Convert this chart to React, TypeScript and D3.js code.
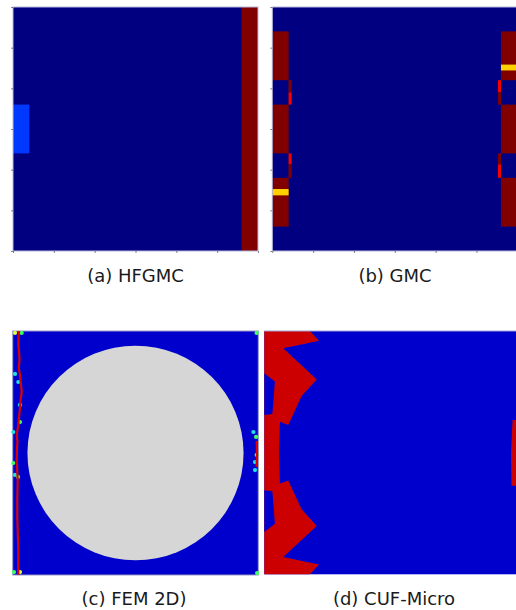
import React, { useEffect, useRef } from "react";
import * as d3 from "d3";

// Jet colour map used by the GMC / HFGMC damage fields (0 = intact, 1 = failed)
function jet(v: number): string {
  const c = (t: number) => Math.round(255 * Math.max(0, Math.min(1, t)));
  return `rgb(${c(1.5 - Math.abs(4 * v - 3))},${c(1.5 - Math.abs(4 * v - 2))},${c(1.5 - Math.abs(4 * v - 1))})`;
}

// Panel titles
const panelTitles = ["(a) HFGMC", "(b) GMC", "(c) FEM 2D)", "(d) CUF-Micro"];

// Axis tick positions on the unit cell (normalised)
const cellTicks = [0, 1 / 6, 2 / 6, 3 / 6, 4 / 6, 5 / 6, 1];

// HFGMC subcell damage: [x0, x1, y0, y1, value]
const hfgmcCells: [number, number, number, number, number][] = [
  [0, 1, 0, 1, 0],
  [14 / 15, 1, 0, 1, 1],
  [0, 1 / 15, 0.4, 0.6, 0.18],
];

// GMC subcell damage: [x0, x1, y0, y1, value]
const gmcCells: [number, number, number, number, number][] = [
  [0, 1, 0, 1, 0],
  [0, 1 / 15, 0.1, 0.9, 1],
  [0, 1 / 15, 0.3, 0.4, 0],
  [0, 1 / 15, 0.6, 0.7, 0],
  [0, 1 / 15, 0.746, 0.772, 0.67],
  [1 / 15, 1 / 15 + 0.012, 0.3, 0.35, 1],
  [1 / 15, 1 / 15 + 0.012, 0.35, 0.4, 0.88],
  [1 / 15, 1 / 15 + 0.012, 0.6, 0.645, 0.88],
  [1 / 15, 1 / 15 + 0.012, 0.645, 0.7, 1],
  [14 / 15, 1, 0.1, 0.9, 1],
  [14 / 15, 1, 0.3, 0.4, 0],
  [14 / 15, 1, 0.6, 0.7, 0],
  [14 / 15, 1, 0.236, 0.26, 0.67],
  [14 / 15 - 0.012, 14 / 15, 0.3, 0.35, 0.88],
  [14 / 15 - 0.012, 14 / 15, 0.35, 0.4, 1],
  [14 / 15 - 0.012, 14 / 15, 0.6, 0.645, 1],
  [14 / 15 - 0.012, 14 / 15, 0.645, 0.7, 0.88],
];

// FEM 2D: fibre and matrix crack paths (normalised cell coordinates)
const fibreCentre: [number, number] = [0.5, 0.5];
const fibreRadius = 0.44;
const leftCrack: [number, number][] = [
  [0.0257, 0], [0.0235, 0.03], [0.0228, 0.057], [0.026, 0.085], [0.0277, 0.119],
  [0.0245, 0.15], [0.0297, 0.18], [0.033, 0.215], [0.0366, 0.25], [0.0318, 0.283],
  [0.0297, 0.316], [0.0257, 0.352], [0.0228, 0.385], [0.0163, 0.426], [0.0195, 0.455],
  [0.0175, 0.48], [0.0163, 0.529], [0.0204, 0.611], [0.0187, 0.693], [0.0187, 0.762],
  [0.0208, 0.836], [0.0228, 0.898], [0.0224, 0.947], [0.0228, 1],
];
const rightCrack: [number, number][] = [
  [0.9935, 0.451], [0.995, 0.508], [0.993, 0.557],
];
// Partially damaged integration points: [x, y, colour]
const damageSpecks: [number, number, string][] = [
  [0.0366, 0.008, "#40ff60"], [0.0094, 0.008, "#e0ff40"], [0.0094, 0.176, "#20e0e0"],
  [0.0228, 0.209, "#20e0e0"], [0.0297, 0.303, "#20e0e0"], [0.0297, 0.373, "#40ff60"],
  [0.0024, 0.414, "#20e0e0"], [0.0024, 0.541, "#40ff60"], [0.0094, 0.59, "#20e0e0"],
  [0.0216, 0.598, "#40ff60"], [0.0053, 0.988, "#40ff60"], [0.0297, 0.988, "#e0ff40"],
  [0.98, 0.414, "#20e0e0"], [0.991, 0.434, "#40ff60"], [0.9935, 0.508, "#40ff60"],
  [0.9866, 0.537, "#20e0e0"], [0.9866, 0.57, "#20e0e0"], [0.993, 0.008, "#40ff60"],
  [0.995, 0.992, "#40ff60"],
];

// CUF-Micro failed elements (normalised cell coordinates)
const cufLeftFailed: [number, number][] = [
  [0, 0], [0.181, 0], [0.217, 0.04], [0.075, 0.071], [0.208, 0.199], [0.148, 0.267],
  [0.095, 0.386], [0.062, 0.373], [0.058, 0.5], [0.062, 0.627], [0.095, 0.614],
  [0.148, 0.733], [0.208, 0.801], [0.075, 0.929], [0.217, 0.96], [0.181, 1], [0, 1],
];
const cufIntactNotches: [number, number][][] = [
  [[0, 0.174], [0.042, 0.208], [0.032, 0.341], [0, 0.345]],
  [[0, 0.826], [0.042, 0.792], [0.032, 0.659], [0, 0.655]],
];
const cufRightFailed: [number, number][] = [
  [0.985, 0.366], [1.01, 0.366], [1.01, 0.636], [0.981, 0.636], [0.979, 0.5],
];

const W = 516;
const H = 610;
const FONT = "'DejaVu Sans', sans-serif";

type Box = { x: number; y: number; w: number; h: number };
const boxA: Box = { x: 13, y: 7, w: 245, h: 244 };
const boxB: Box = { x: 272.3, y: 7, w: 245, h: 244 };
const boxC: Box = { x: 12.7, y: 331, w: 245.6, h: 244 };
const boxD: Box = { x: 264.3, y: 331, w: 252, h: 243.3 };

function scalesFor(b: Box) {
  return {
    x: d3.scaleLinear().domain([0, 1]).range([b.x, b.x + b.w]),
    y: d3.scaleLinear().domain([0, 1]).range([b.y, b.y + b.h]),
  };
}

function CellAxes({ box }: { box: Box }) {
  const gl = useRef<SVGGElement>(null);
  const gb = useRef<SVGGElement>(null);
  useEffect(() => {
    const { x, y } = scalesFor(box);
    const left = d3.axisLeft(y).tickValues(cellTicks).tickFormat(() => "").tickSize(2).tickSizeOuter(0);
    const bottom = d3.axisBottom(x).tickValues(cellTicks).tickFormat(() => "").tickSize(2).tickSizeOuter(0);
    const l = d3.select(gl.current!).call(left);
    const b = d3.select(gb.current!).call(bottom);
    [l, b].forEach((g) => {
      g.select(".domain").attr("stroke", "none");
      g.selectAll(".tick line").attr("stroke", "#666").attr("stroke-width", 0.8);
    });
  }, [box]);
  return (
    <g>
      <g ref={gl} transform={`translate(${box.x},0)`} />
      <g ref={gb} transform={`translate(0,${box.y + box.h})`} />
    </g>
  );
}

function CellPanel({ box, cells }: { box: Box; cells: [number, number, number, number, number][] }) {
  const { x, y } = scalesFor(box);
  return (
    <g>
      {cells.map(([x0, x1, y0, y1, v], i) => (
        <rect key={i} x={x(x0)} y={y(y0)} width={x(x1) - x(x0)} height={y(y1) - y(y0)} fill={jet(v)} />
      ))}
      <rect x={box.x} y={box.y} width={box.w} height={box.h} fill="none" stroke="#b8b8dc" strokeWidth={1} />
      <CellAxes box={box} />
    </g>
  );
}

function FemPanel() {
  const { x, y } = scalesFor(boxC);
  const line = d3.line<[number, number]>().x((d) => x(d[0])).y((d) => y(d[1])).curve(d3.curveLinear);
  return (
    <g>
      <rect x={boxC.x} y={boxC.y} width={boxC.w} height={boxC.h} fill="#0000cc" stroke="#9a9ac8" strokeWidth={1} />
      <ellipse
        cx={x(fibreCentre[0])}
        cy={y(fibreCentre[1])}
        rx={x(fibreCentre[0] + fibreRadius) - x(fibreCentre[0])}
        ry={y(fibreCentre[1] + fibreRadius) - y(fibreCentre[1])}
        fill="#d6d6d6"
      />
      {damageSpecks.map(([sx, sy, c], i) => (
        <circle key={i} cx={x(sx)} cy={y(sy)} r={2.1} fill={c} />
      ))}
      <path d={line(leftCrack) || ""} fill="none" stroke="#dd0000" strokeWidth={2.2} strokeLinejoin="round" />
      <path d={line(rightCrack) || ""} fill="none" stroke="#dd0000" strokeWidth={2.2} />
    </g>
  );
}

function CufPanel() {
  const { x, y } = scalesFor(boxD);
  const poly = d3.line<[number, number]>().x((d) => x(d[0])).y((d) => y(d[1])).curve(d3.curveLinearClosed);
  return (
    <g>
      <rect x={boxD.x} y={boxD.y} width={boxD.w} height={boxD.h} fill="#0000cc" />
      <path d={poly(cufLeftFailed) || ""} fill="#cc0000" />
      {cufIntactNotches.map((p, i) => (
        <path key={i} d={poly(p) || ""} fill="#0000cc" />
      ))}
      <path d={poly(cufRightFailed) || ""} fill="#cc0000" />
      <line x1={boxD.x} x2={boxD.x + boxD.w} y1={boxD.y} y2={boxD.y} stroke="#a0a0d8" strokeWidth={1} />
    </g>
  );
}

export default function App() {
  const titlePos: [number, number][] = [
    [135.5, 282],
    [395, 282],
    [134, 605],
    [394, 605],
  ];
  return (
    <svg width={W} height={H} style={{ position: "absolute", left: 0, top: 0, background: "#fff" }}>
      <CellPanel box={boxA} cells={hfgmcCells} />
      <CellPanel box={boxB} cells={gmcCells} />
      <FemPanel />
      <CufPanel />
      {panelTitles.map((t, i) => (
        <text
          key={t}
          x={titlePos[i][0]}
          y={titlePos[i][1]}
          textAnchor="middle"
          fontFamily={FONT}
          fontSize={18}
          fill="#1a1a1a"
        >
          {t}
        </text>
      ))}
    </svg>
  );
}
